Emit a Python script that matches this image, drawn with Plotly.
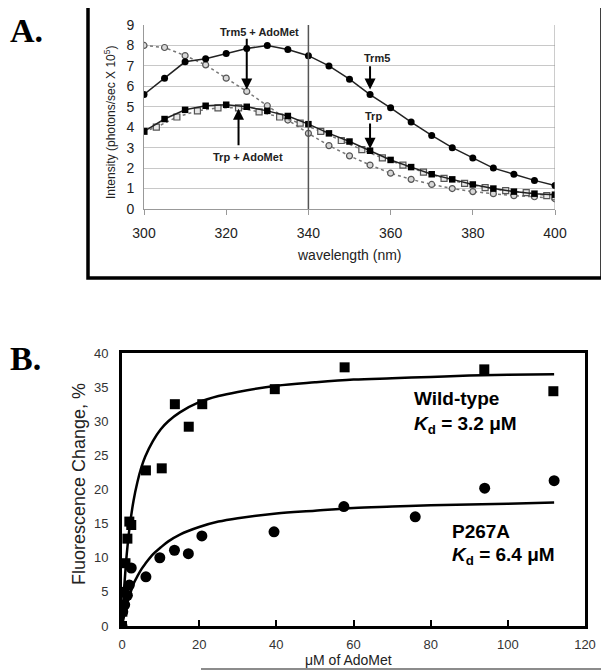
import plotly.graph_objects as go

# ---- panel A: emission spectra ----
wl = [300, 305, 310, 315, 320, 325, 330, 335, 340, 345, 350, 355, 360, 365, 370, 375, 380, 385, 390, 395, 400]
trm5 = [5.6, 6.4, 7.2, 7.35, 7.6, 7.85, 8.0, 7.8, 7.5, 7.0, 6.35, 5.6, 4.95, 4.25, 3.6, 3.0, 2.5, 2.0, 1.7, 1.4, 1.15]
trm5_adomet = [8.0, 7.9, 7.5, 7.05, 6.4, 5.75, 5.05, 4.35, 3.7, 3.1, 2.6, 2.15, 1.75, 1.45, 1.2, 1.0, 0.85, 0.75, 0.65, 0.6, 0.5]
trp = [3.8, 4.4, 4.85, 5.05, 5.1, 5.0, 4.8, 4.55, 4.15, 3.7, 3.3, 2.85, 2.4, 2.05, 1.7, 1.45, 1.2, 1.0, 0.85, 0.75, 0.7]
wl_b = [300, 303, 308, 313, 318, 323, 328, 333, 338, 343, 348, 353, 358, 363, 368, 373, 378, 383, 388, 393, 398, 400]
trp_adomet = [3.8, 4.0, 4.5, 4.8, 4.95, 4.95, 4.75, 4.5, 4.2, 3.8, 3.35, 2.9, 2.5, 2.15, 1.8, 1.5, 1.25, 1.05, 0.9, 0.8, 0.65, 0.6]

# ---- panel B: titration ----
wt_x = [0, 0.1, 0.4, 0.9, 1.4, 1.9, 2.4, 6.2, 10.3, 13.7, 17.3, 20.8, 39.6, 57.7, 93.9, 111.8]
wt_y = [0, 2.1, 5.0, 9.2, 12.8, 15.3, 14.8, 22.8, 23.1, 32.5, 29.2, 32.5, 34.7, 37.9, 37.6, 34.4]
mut_x = [0, 0.2, 0.7, 1.4, 1.9, 2.4, 6.2, 9.8, 13.6, 17.2, 20.7, 39.4, 57.5, 76.0, 94.0, 112.0]
mut_y = [0, 2.1, 3.1, 4.5, 6.0, 8.5, 7.2, 10.0, 11.1, 10.6, 13.2, 13.8, 17.5, 16.0, 20.2, 21.3]
fit_x = [0, 0.5, 1, 1.5, 2, 3, 4, 5, 6, 8, 10, 12, 15, 20, 25, 30, 40, 50, 60, 70, 80, 90, 100, 112]
wt_fit = [0, 5.1, 9.0, 12.1, 14.6, 18.4, 21.1, 23.2, 24.8, 27.1, 28.8, 30.0, 31.3, 32.8, 33.7, 34.3, 35.2, 35.7, 36.1, 36.3, 36.5, 36.7, 36.8, 36.9]
mut_fit = [0, 1.4, 2.6, 3.6, 4.5, 6.2, 7.3, 8.3, 9.1, 10.5, 11.5, 12.4, 13.4, 14.5, 15.3, 15.8, 16.5, 16.9, 17.3, 17.5, 17.7, 17.8, 17.9, 18.1]

W, H = 609, 671
OFF = 8  # page body margin in the browser

# page pixel -> paper helpers
def px(x):
    return (x - OFF) / W
def py(y):
    return 1 - (y - OFF) / H

fig = go.Figure()

# panel A traces
fig.add_trace(go.Scatter(x=wl, y=trm5_adomet, mode='lines+markers', xaxis='x', yaxis='y',
                         line=dict(color='#777777', width=1.5, dash='dot'),
                         marker=dict(symbol='circle', size=6, color='#d8d8d8', line=dict(color='#555555', width=1.2))))
fig.add_trace(go.Scatter(x=wl_b, y=trp_adomet, mode='lines+markers', xaxis='x', yaxis='y',
                         line=dict(color='#777777', width=1.5, dash='dot'),
                         marker=dict(symbol='square', size=6, color='#e8e8e8', line=dict(color='#555555', width=1.2))))
fig.add_trace(go.Scatter(x=wl, y=trm5, mode='lines+markers', xaxis='x', yaxis='y',
                         line=dict(color='#222222', width=1.5),
                         marker=dict(symbol='circle', size=7, color='black')))
fig.add_trace(go.Scatter(x=wl, y=trp, mode='lines+markers', xaxis='x', yaxis='y',
                         line=dict(color='#222222', width=1.5),
                         marker=dict(symbol='square', size=6.5, color='black')))

# panel B traces
fig.add_trace(go.Scatter(x=fit_x, y=wt_fit, mode='lines', xaxis='x2', yaxis='y2',
                         line=dict(color='black', width=2.5, shape='spline')))
fig.add_trace(go.Scatter(x=fit_x, y=mut_fit, mode='lines', xaxis='x2', yaxis='y2',
                         line=dict(color='black', width=2.5, shape='spline')))
fig.add_trace(go.Scatter(x=wt_x, y=wt_y, mode='markers', xaxis='x2', yaxis='y2',
                         marker=dict(symbol='square', size=10, color='black')))
fig.add_trace(go.Scatter(x=mut_x, y=mut_y, mode='markers', xaxis='x2', yaxis='y2',
                         marker=dict(symbol='circle', size=11, color='black')))

ax_font = dict(family='Arial, Liberation Sans', size=14, color='#222222')
b_font = dict(family='Arial, Liberation Sans', size=13, color='#333333')
fig.update_layout(
    width=W, height=H, showlegend=False,
    margin=dict(l=0, r=0, t=0, b=0, pad=0, autoexpand=False),
    paper_bgcolor='white', plot_bgcolor='white',
    xaxis=dict(domain=[px(144), px(555)], range=[300, 400], tickvals=[300, 320, 340, 360, 380, 400],
               showgrid=False, showline=True, linecolor='#999999', linewidth=1,
               ticks='outside', ticklen=5, tickcolor='#999999', tickfont=ax_font,
               ticklabelstandoff=6, zeroline=False, anchor='y', automargin=False),
    yaxis=dict(domain=[py(209), py(25)], range=[0, 9], dtick=1,
               showgrid=True, gridcolor='#c8c8c8', gridwidth=1,
               showline=True, linecolor='#999999', linewidth=1,
               ticks='', tickfont=ax_font, ticklabelstandoff=6, zeroline=False, anchor='x', automargin=False),
    xaxis2=dict(domain=[px(122), px(585)], range=[0, 120], dtick=20,
                showgrid=False, showline=True, linecolor='black', linewidth=3, mirror=True,
                ticks='inside', ticklen=6, tickwidth=1.5, tickcolor='black',
                tickfont=b_font, ticklabelstandoff=4, zeroline=False, anchor='y2', automargin=False),
    yaxis2=dict(domain=[py(626), py(353)], range=[0, 40], dtick=5,
                showgrid=False, showline=True, linecolor='black', linewidth=3, mirror=True,
                ticks='', tickfont=b_font, ticklabelstandoff=8, zeroline=False, anchor='x2', automargin=False),
)

shapes = [
    # panel A frame
    dict(type='rect', xref='paper', yref='paper', x0=px(88), x1=px(602), y0=py(278), y1=py(5),
         line=dict(color='black', width=3.5)),
    # plot area border (right side)
    dict(type='line', xref='x', yref='y', x0=400, x1=400, y0=0, y1=9, line=dict(color='#999999', width=1)),
    # 340 nm marker line
    dict(type='line', xref='x', yref='y', x0=340, x1=340, y0=0, y1=9, line=dict(color='#555555', width=1.5)),
    # rule under panel B x title
    dict(type='line', xref='paper', yref='paper', x0=px(201), x1=px(606), y0=py(669), y1=py(669),
         line=dict(color='#666666', width=1.5)),
]
fig.update_layout(shapes=shapes)

lab = dict(family='Arial, Liberation Sans', size=11, color='#222222')
ann = []
# text labels panel A
ann.append(dict(x=328, y=8.67, xref='x', yref='y', text='<b>Trm5 + AdoMet</b>', showarrow=False, font=lab))
ann.append(dict(x=325.2, y=2.56, xref='x', yref='y', text='<b>Trp + AdoMet</b>', showarrow=False, font=lab))
ann.append(dict(x=356.8, y=7.37, xref='x', yref='y', text='<b>Trm5</b>', showarrow=False, font=lab))
ann.append(dict(x=355.8, y=4.55, xref='x', yref='y', text='<b>Trp</b>', showarrow=False, font=lab))
# arrows panel A
for xh, yh, xt, yt in [(325, 5.85, 325, 8.4), (323, 4.9, 323, 3.05), (355, 5.85, 355, 7.05), (355, 2.95, 355, 4.25)]:
    ann.append(dict(x=xh, y=yh, ax=xt, ay=yt, xref='x', yref='y', axref='x', ayref='y', text='',
                    showarrow=True, arrowhead=2, arrowsize=1.1, arrowwidth=2, arrowcolor='black'))

# axis titles panel A
ann.append(dict(x=px(110), y=py(123), xref='paper', yref='paper', xanchor='center', yanchor='middle',
                textangle=-90, text='Intensity (photons/sec X 10<sup>5</sup>)', showarrow=False,
                font=dict(family='Arial, Liberation Sans', size=12, color='#222222')))
ann.append(dict(x=px(349.5), y=py(255), xref='paper', yref='paper', xanchor='center', yanchor='middle',
                text='wavelength (nm)', showarrow=False,
                font=dict(family='Arial, Liberation Sans', size=14, color='#222222')))

# axis titles panel B
ann.append(dict(x=px(79), y=py(484), xref='paper', yref='paper', xanchor='center', yanchor='middle',
                textangle=-90, text='Fluorescence Change, %', showarrow=False,
                font=dict(family='Arial, Liberation Sans', size=18, color='#222222')))
ann.append(dict(x=px(348), y=py(660), xref='paper', yref='paper', xanchor='center', yanchor='middle',
                text='μM of AdoMet', showarrow=False,
                font=dict(family='Arial, Liberation Sans', size=14, color='#222222')))

# labels panel B
big = dict(family='Arial, Liberation Sans', size=19, color='black')
ann.append(dict(x=75.1, y=33.3, xref='x2', yref='y2', xanchor='left', text='<b>Wild-type</b>', showarrow=False, font=big))
ann.append(dict(x=75.1, y=29.45, xref='x2', yref='y2', xanchor='left',
                text='<b><i>K</i><sub>d</sub> = 3.2 μM</b>', showarrow=False, font=big))
ann.append(dict(x=85, y=13.9, xref='x2', yref='y2', xanchor='left', text='<b>P267A</b>', showarrow=False, font=big))
ann.append(dict(x=85, y=10.3, xref='x2', yref='y2', xanchor='left',
                text='<b><i>K</i><sub>d</sub> = 6.4 μM</b>', showarrow=False, font=big))

# panel letters
letter = dict(family='Liberation Serif, Times New Roman, serif', size=34, color='black')
ann.append(dict(x=px(8), y=py(30), xref='paper', yref='paper', xanchor='left', yanchor='middle',
                text='<b>A.</b>', showarrow=False, font=letter))
ann.append(dict(x=px(8), y=py(358), xref='paper', yref='paper', xanchor='left', yanchor='middle',
                text='<b>B.</b>', showarrow=False, font=letter))

fig.update_layout(annotations=ann)

fig.write_html("out.html")
